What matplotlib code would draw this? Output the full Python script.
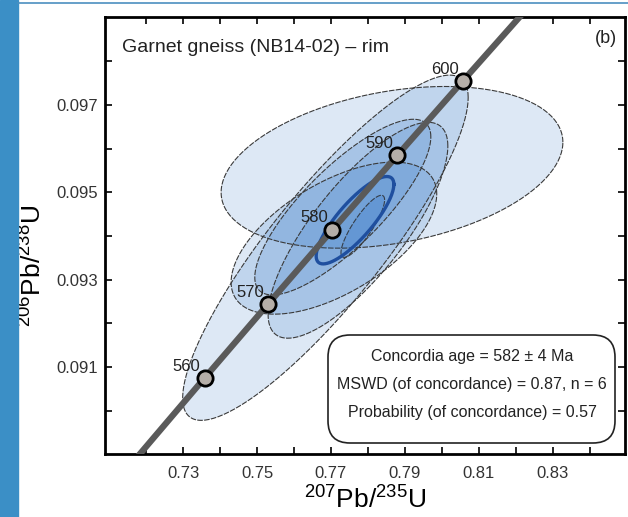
import numpy as np
import matplotlib
matplotlib.use("Agg")
import matplotlib.pyplot as plt
from matplotlib.patches import FancyBboxPatch

plt.rcParams['font.family'] = ['Liberation Sans', 'DejaVu Sans']
plt.rcParams['mathtext.fontset'] = 'custom'
plt.rcParams['mathtext.rm'] = 'Liberation Sans'

# concordia curve (age in Ma, 207Pb/235U, 206Pb/238U)
curve_age = [545, 550, 560, 570, 580, 590, 600, 610]
curve_x = [0.71043, 0.71887, 0.73588, 0.75306, 0.77041, 0.78794, 0.80563, 0.82350]
curve_y = [0.088220, 0.089064, 0.090755, 0.092448, 0.094144, 0.095843, 0.097544, 0.099248]
marked_ages = [560, 570, 580, 590, 600]

# data ellipses: centre, half-widths, correlation
ell_cx = [0.7865, 0.7685, 0.7773, 0.7732, 0.7708, 0.7786]
ell_cy = [0.09557, 0.09373, 0.09413, 0.09466, 0.09395, 0.09422]
ell_dx = [0.0462, 0.0386, 0.0243, 0.0238, 0.0278, 0.0059]
ell_dy = [0.00185, 0.00395, 0.00247, 0.00201, 0.00174, 0.00071]
ell_rho = [0.31, 0.87, 0.78, 0.80, 0.58, 0.85]

# concordia age ellipse
conc_cx, conc_cy = 0.7765, 0.09436
conc_dx, conc_dy, conc_rho = 0.0105, 0.00100, 0.82

x_ticks = [0.73, 0.75, 0.77, 0.79, 0.81, 0.83]
y_ticks = [0.091, 0.093, 0.095, 0.097]
stats_lines = ["Concordia age = 582 \u00b1 4 Ma",
               "MSWD (of concordance) = 0.87, n = 6",
               "Probability (of concordance) = 0.57"]


def ellipse_xy(cx, cy, dx, dy, rho, n=240):
    t = np.linspace(0, 2 * np.pi, n)
    x = cx + dx * np.cos(t)
    y = cy + dy * (rho * np.cos(t) + np.sqrt(1 - rho ** 2) * np.sin(t))
    return x, y


fig = plt.figure(figsize=(6.28, 5.17), dpi=100)
fig.patches.append(plt.Rectangle((0, 0), 18 / 628, 1, transform=fig.transFigure,
                                 color='#3b8fc6', zorder=0))
fig.lines.append(plt.Line2D([18 / 628, 1], [1 - 3 / 517] * 2, transform=fig.transFigure,
                            color='#4b8fc0', lw=1.2))

ax = fig.add_axes([105 / 628, 1 - 454 / 517, 520 / 628, 437 / 517])
ax.set_xlim(0.7089, 0.8495)
ax.set_ylim(0.08901, 0.09901)

for cx, cy, dx, dy, r in zip(ell_cx, ell_cy, ell_dx, ell_dy, ell_rho):
    ex, ey = ellipse_xy(cx, cy, dx, dy, r)
    ax.fill(ex, ey, facecolor='#1362bf', alpha=0.14, zorder=1)
    ax.plot(ex, ey, color='#3a3a3a', lw=0.8, dashes=(5, 1.2), zorder=2)

ex, ey = ellipse_xy(conc_cx, conc_cy, conc_dx, conc_dy, conc_rho)
ax.fill(ex, ey, facecolor='#1362bf', alpha=0.12, zorder=3)
ax.plot(ex, ey, color='#1f4f9f', lw=2.4, zorder=4)

ax.plot(curve_x, curve_y, color='#5a5a5a', lw=4.5, solid_capstyle='butt', zorder=5)
for age in marked_ages:
    i = curve_age.index(age)
    ax.plot(curve_x[i], curve_y[i], 'o', ms=11, mfc='#b5aea8', mec='black',
            mew=2, zorder=6)
    ax.annotate(str(age), (curve_x[i], curve_y[i]), xytext=(-3, 3),
                textcoords='offset points', ha='right', va='bottom',
                fontsize=12, color='#222222', zorder=7)

ax.text(0.033, 0.95, "Garnet gneiss (NB14-02) \u2013 rim", transform=ax.transAxes,
        ha='left', va='top', fontsize=14, color='#222222')
ax.text(0.985, 0.97, "(b)", transform=ax.transAxes, ha='right', va='top',
        fontsize=13, color='#222222')

box = FancyBboxPatch((328, 74), 287, 108, transform=None,
                     boxstyle='round,pad=0,rounding_size=22',
                     facecolor='white', edgecolor='#222222', lw=1.2, zorder=8)
ax.add_patch(box)
for k, line in enumerate(stats_lines):
    ax.text(472 / 628, (517 - 356 - k * 28.5) / 517, line, transform=fig.transFigure,
            ha='center', va='center', fontsize=11.5, color='#222222', zorder=9)

ax.set_xticks(x_ticks)
ax.set_xticklabels([f"{v:.2f}" for v in x_ticks])
ax.set_yticks(y_ticks)
ax.set_yticklabels([f"{v:.3f}" for v in y_ticks])
ax.set_xticks(np.arange(0.72, 0.85, 0.02), minor=True)
ax.set_yticks(np.arange(0.090, 0.0990, 0.002), minor=True)
ax.tick_params(which='both', direction='in', length=5, width=1.2,
               top=True, right=True, labelsize=12, labelcolor='#333333')
ax.tick_params(axis='y', pad=5)
ax.tick_params(axis='x', pad=9)
for s in ax.spines.values():
    s.set_linewidth(2)

ax.set_xlabel(r"$^{207}$Pb/$^{235}$U", fontsize=19, labelpad=2)
ax.set_ylabel(r"$^{206}$Pb/$^{238}$U", fontsize=19)
ax.yaxis.set_label_coords(-0.115, 0.43)

fig.savefig("out.png", dpi=100)
